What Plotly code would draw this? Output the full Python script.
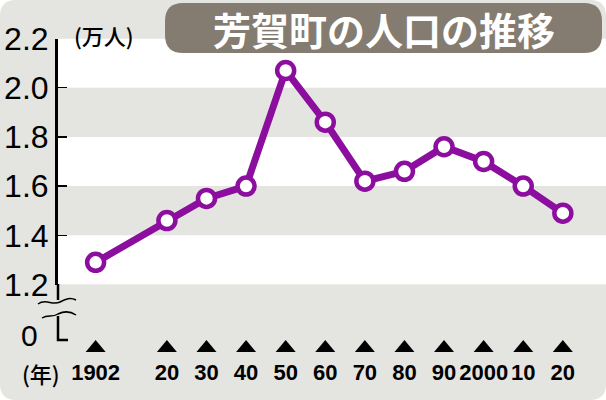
import plotly.graph_objects as go

# ---- data (population in 10,000 persons) ----
years = [1902, 1920, 1930, 1940, 1950, 1960, 1970, 1980, 1990, 2000, 2010, 2020]
population = [1.29, 1.46, 1.55, 1.60, 2.07, 1.86, 1.62, 1.66, 1.76, 1.70, 1.60, 1.49]
year_labels = ["1902", "20", "30", "40", "50", "60", "70", "80", "90", "2000", "10", "20"]
y_ticks = [1.2, 1.4, 1.6, 1.8, 2.0, 2.2]
y_tick_labels = ["1.2", "1.4", "1.6", "1.8", "2.0", "2.2"]
band_ranges = [(1.4, 1.6), (1.8, 2.0)]
title_text = "芳賀町の人口の推移"
unit_text = "(万人)"
year_unit_text = "(年)"

W, H = 606, 400


def px(x):
    return x / W


def py(y):
    return 1 - y / H


def ppath(cmds):
    s = ""
    for cmd, ps in cmds:
        s += cmd + " " + " ".join(f"{px(a):.5f},{py(b):.5f}" for a, b in ps) + " "
    return s


def rrect(x0, y0, x1, y1, r):
    return ppath([
        ("M", [(x0 + r, y0)]), ("L", [(x1 - r, y0)]), ("Q", [(x1, y0), (x1, y0 + r)]),
        ("L", [(x1, y1 - r)]), ("Q", [(x1, y1), (x1 - r, y1)]), ("L", [(x0 + r, y1)]),
        ("Q", [(x0, y1), (x0, y1 - r)]), ("L", [(x0, y0 + r)]), ("Q", [(x0, y0), (x0 + r, y0)]),
    ]) + "Z"


PURPLE = "#8c0e9f"
BG = "#e4e4e0"
TITLE_BG = "#857c71"
SANS = "Liberation Sans, Arial, sans-serif"
CJK = "Noto Sans CJK JP, sans-serif"

fig = go.Figure()
fig.add_trace(go.Scatter(
    x=years, y=population, mode="lines+markers",
    line=dict(color=PURPLE, width=7),
    marker=dict(size=17, color="white", line=dict(color=PURPLE, width=4.5)),
    cliponaxis=False, hoverinfo="skip", showlegend=False,
))

shapes = []
# overall rounded gray card
shapes.append(dict(type="path", path=rrect(0, 0, W, H, 16), xref="paper", yref="paper",
                   fillcolor=BG, line=dict(width=0), layer="below"))
# white plot area
shapes.append(dict(type="rect", xref="x domain", yref="y", x0=0, x1=1, y0=1.2, y1=2.2,
                   fillcolor="white", line=dict(width=0), layer="below"))
# gray bands
for lo, hi in band_ranges:
    shapes.append(dict(type="rect", xref="x domain", yref="y", x0=0, x1=1, y0=lo, y1=hi,
                       fillcolor=BG, line=dict(width=0), layer="below"))
# title box
shapes.append(dict(type="path", path=rrect(165, 3, 602, 53, 18), xref="paper", yref="paper",
                   fillcolor=TITLE_BG, line=dict(width=0), layer="below"))
# axis extension and break
shapes.append(dict(type="line", xref="paper", yref="paper", x0=px(58), x1=px(58),
                   y0=py(284), y1=py(300), line=dict(color="black", width=2.5)))
shapes.append(dict(type="path", xref="paper", yref="paper", line=dict(color="black", width=1.5),
                   path=ppath([("M", [(38, 304)]), ("C", [(46, 298), (52, 306), (60, 302)]),
                               ("C", [(66, 299), (70, 297), (76, 300)])])))
shapes.append(dict(type="path", xref="paper", yref="paper", line=dict(color="black", width=1.5),
                   path=ppath([("M", [(42, 318)]), ("C", [(48, 314), (52, 318), (58, 314)]),
                               ("C", [(64, 311), (70, 311), (76, 315)])])))
shapes.append(dict(type="path", xref="paper", yref="paper", line=dict(color="black", width=2.5),
                   path=ppath([("M", [(58, 316)]), ("L", [(58, 340)]), ("L", [(68, 340)])])))
# triangles above year labels
for yr in years:
    shapes.append(dict(type="path", xref="x", yref="paper", xsizemode="pixel", ysizemode="pixel",
                       xanchor=yr, yanchor=py(352), path="M -10,0 L 10,0 L 0,12 Z",
                       fillcolor="black", line=dict(width=0)))

annotations = [
    dict(text=title_text, x=px(384), y=py(28), xref="paper", yref="paper", showarrow=False,
         font=dict(family=CJK, size=38, color="white", weight="bold"),
         xanchor="center", yanchor="middle"),
    dict(text=unit_text, x=px(104), y=py(35), xref="paper", yref="paper", showarrow=False,
         font=dict(family=CJK, size=22, color="black", weight=500),
         xanchor="center", yanchor="middle"),
    dict(text=year_unit_text, x=px(41), y=py(373), xref="paper", yref="paper", showarrow=False,
         font=dict(family=CJK, size=22, color="black", weight=500),
         xanchor="center", yanchor="middle"),
    dict(text="0", x=px(29), y=py(335), xref="paper", yref="paper", showarrow=False,
         font=dict(family=SANS, size=30, color="black"), xanchor="center", yanchor="middle"),
]

fig.update_layout(
    width=W, height=H, autosize=False,
    margin=dict(l=0, r=0, t=0, b=0, pad=0, autoexpand=False),
    paper_bgcolor="white", plot_bgcolor="rgba(0,0,0,0)",
    shapes=shapes, annotations=annotations, showlegend=False,
    xaxis=dict(domain=[px(58), 1], range=[1892.5, 2030.9], showgrid=False, zeroline=False,
               showline=False, ticks="", anchor="free", position=py(357), automargin=False,
               tickangle=0, tickmode="array", tickvals=years, ticktext=year_labels,
               tickfont=dict(family=SANS, size=22, color="black", weight="bold"),
               ticklabelstandoff=0),
    yaxis=dict(domain=[py(284.5), py(38.5)], range=[1.2, 2.2], showgrid=False, zeroline=False,
               showline=True, linecolor="black", linewidth=3, ticks="inside", ticklen=9,
               tickwidth=1.5, tickcolor="black", tickmode="array", tickvals=y_ticks,
               ticktext=y_tick_labels, tickfont=dict(family=SANS, size=32, color="black"),
               ticklabelstandoff=0, automargin=False),
)

fig.write_html("out.html", config={"displayModeBar": False, "staticPlot": True},
               post_script="document.body.style.margin='0';")
